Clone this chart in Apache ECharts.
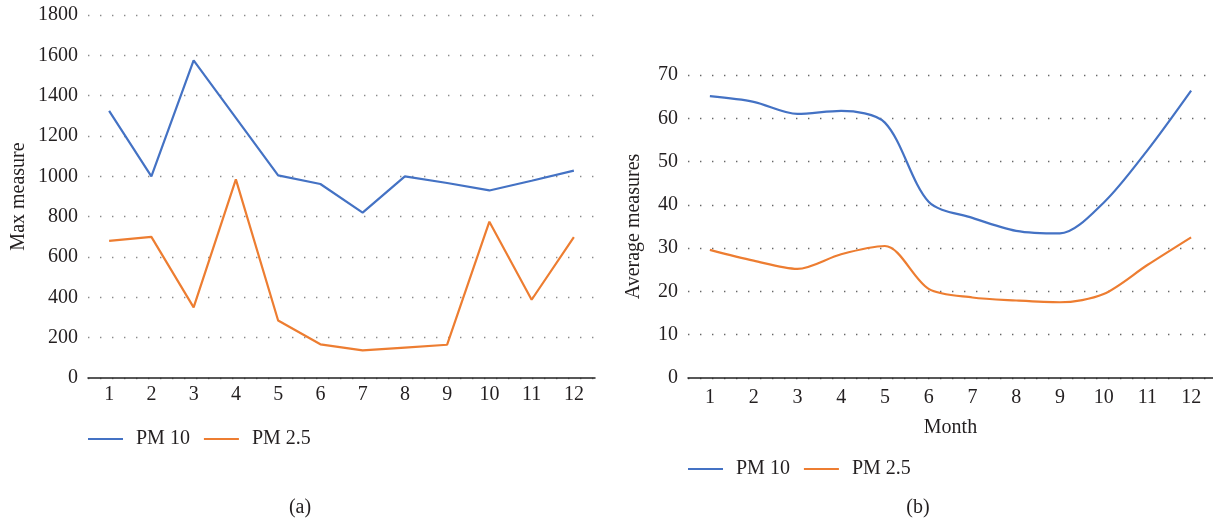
<!DOCTYPE html>
<html>
<head>
<meta charset="utf-8">
<script src="https://cdn.jsdelivr.net/npm/echarts@6/dist/echarts.min.js"></script>
<style>
html,body{margin:0;padding:0;background:#fff;}
#chart{width:1213px;height:520px;}
</style>
</head>
<body>
<div id="chart"></div>
<script>
const months = ['1','2','3','4','5','6','7','8','9','10','11','12'];
const pm10Max = [1325, 1000, 1575, 1290, 1005, 962, 820, 1000, 967, 930, 978, 1028];
const pm25Max = [680, 700, 350, 985, 285, 167, 137, 151, 165, 775, 388, 698];
const pm10Avg = [65.1, 63.8, 61.0, 61.7, 59.0, 40.7, 37.0, 34.0, 33.4, 40.5, 52.6, 66.4];
const pm25Avg = [29.6, 27.1, 25.2, 28.6, 30.5, 20.6, 18.6, 17.9, 17.5, 19.4, 26.1, 32.5];
const seriesNames = ['PM 10', 'PM 2.5'];
const colors = ['#4472C4', '#ED7D31'];

const FONT = '"Liberation Serif", "DejaVu Serif", serif';
const TXT = '#231f20';
const FS = 20;

const chart = echarts.init(document.getElementById('chart'), null, {renderer: 'canvas'});

function xAxisCfg(gridIndex, margin, name) {
  return {
    type: 'category', gridIndex: gridIndex, data: months, boundaryGap: true,
    axisLine: {show: true, lineStyle: {color: '#222', width: 1.5}},
    axisTick: {show: false},
    axisLabel: {color: TXT, fontFamily: FONT, fontSize: FS, margin: margin},
    splitLine: {show: false},
    name: name || '', nameLocation: 'middle', nameGap: 40,
    nameTextStyle: {color: TXT, fontFamily: FONT, fontSize: FS}
  };
}
function yAxisCfg(gridIndex, max, interval, name, nameGap, dotColor) {
  return {
    type: 'value', gridIndex: gridIndex, min: 0, max: max, interval: interval,
    axisLine: {show: false}, axisTick: {show: false},
    axisLabel: {color: TXT, fontFamily: FONT, fontSize: FS, margin: 10, formatter: function (v) { return String(v); }},
    splitLine: {show: true, lineStyle: {color: dotColor, width: 1.4, type: [1.4, 10.6]}},
    name: name, nameLocation: 'middle', nameGap: nameGap, nameRotate: 90,
    nameTextStyle: {color: TXT, fontFamily: FONT, fontSize: FS}
  };
}
function legendCfg(left, top) {
  return {
    left: left, top: top, orient: 'horizontal', padding: 0,
    data: seriesNames, icon: 'rect', itemWidth: 35, itemHeight: 2.2,
    itemGap: 14,
    textStyle: {color: TXT, fontFamily: FONT, fontSize: FS, padding: [0, 0, 0, 8]},
    selectedMode: false
  };
}

chart.setOption({
  animation: false,
  color: colors,
  grid: [
    {left: 88, top: 15, width: 507, height: 363},
    {left: 688, top: 75, width: 529, height: 303}
  ],
  xAxis: [xAxisCfg(0, 7), xAxisCfg(1, 10, 'Month')],
  yAxis: [
    yAxisCfg(0, 1800, 200, 'Max measure', 59, '#8a8a8a'),
    yAxisCfg(1, 70, 10, 'Average measures', 44, '#666')
  ],
  legend: [legendCfg(88, 429), legendCfg(688, 459)],
  series: [
    {name: seriesNames[0], type: 'line', xAxisIndex: 0, yAxisIndex: 0, data: pm10Max, showSymbol: false, lineStyle: {width: 2.2, color: colors[0]}, itemStyle: {color: colors[0]}},
    {name: seriesNames[1], type: 'line', xAxisIndex: 0, yAxisIndex: 0, data: pm25Max, showSymbol: false, lineStyle: {width: 2.2, color: colors[1]}, itemStyle: {color: colors[1]}},
    {name: seriesNames[0], type: 'line', xAxisIndex: 1, yAxisIndex: 1, data: pm10Avg, smooth: 0.3, showSymbol: false, lineStyle: {width: 2.2, color: colors[0]}, itemStyle: {color: colors[0]}},
    {name: seriesNames[1], type: 'line', xAxisIndex: 1, yAxisIndex: 1, data: pm25Avg, smooth: 0.3, showSymbol: false, lineStyle: {width: 2.2, color: colors[1]}, itemStyle: {color: colors[1]}}
  ],
  graphic: [
    {type: 'text', x: 300, y: 508, style: {text: '(a)', fill: TXT, font: FS + 'px ' + FONT, textAlign: 'center', textVerticalAlign: 'middle'}},
    {type: 'text', x: 918, y: 508, style: {text: '(b)', fill: TXT, font: FS + 'px ' + FONT, textAlign: 'center', textVerticalAlign: 'middle'}}
  ]
});
</script>
</body>
</html>
